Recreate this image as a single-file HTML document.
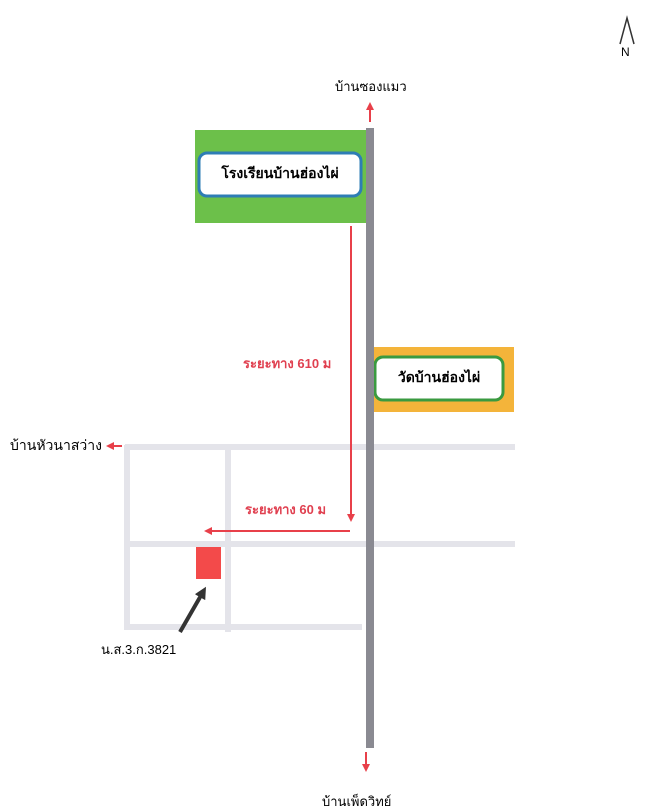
<!DOCTYPE html>
<html><head><meta charset="utf-8"><style>
body{margin:0;width:659px;height:800px;background:#fff;position:relative;overflow:hidden;font-family:"Liberation Sans","Noto Sans CJK SC",sans-serif}
.a{position:absolute}
</style></head><body>
<svg class="a" style="left:0;top:0" width="659" height="800">
<defs><marker id="r" markerWidth="8" markerHeight="8" refX="4" refY="4" orient="auto" markerUnits="userSpaceOnUse"><path d="M0,0L8,4L0,8z" fill="#e8404a"/></marker>
<marker id="k" markerWidth="12" markerHeight="12" refX="6" refY="6" orient="auto" markerUnits="userSpaceOnUse"><path d="M0,0L12,6L0,12z" fill="#333"/></marker></defs>
<g stroke="#e4e4ea" stroke-width="6" fill="none">
<line x1="125" y1="447" x2="515" y2="447"/><line x1="125" y1="544" x2="515" y2="544"/><line x1="125" y1="627" x2="362" y2="627"/>
<line x1="127" y1="445" x2="127" y2="630"/><line x1="228" y1="445" x2="228" y2="632"/></g>
<rect x="195" y="130" width="171" height="93" fill="#6cc04a"/>
<rect x="199" y="153" width="162" height="43" rx="8" fill="#fff" stroke="#2e7db5" stroke-width="3"/>
<rect x="374" y="347" width="140" height="65" fill="#f4b43a"/>
<rect x="375" y="357" width="128" height="43" rx="8" fill="#fff" stroke="#3a9a40" stroke-width="3"/>
<rect x="366" y="128" width="8" height="620" fill="#8a8a92"/>
<line x1="370" y1="122" x2="370" y2="106" stroke="#e8404a" stroke-width="2" marker-end="url(#r)"/>
<line x1="366" y1="752" x2="366" y2="768" stroke="#e8404a" stroke-width="2" marker-end="url(#r)"/>
<line x1="122" y1="446" x2="110" y2="446" stroke="#e8404a" stroke-width="2" marker-end="url(#r)"/>
<line x1="351" y1="226" x2="351" y2="518" stroke="#e8404a" stroke-width="2" marker-end="url(#r)"/>
<line x1="350" y1="531" x2="208" y2="531" stroke="#e8404a" stroke-width="2" marker-end="url(#r)"/>
<rect x="196" y="547" width="25" height="32" fill="#f34a4a"/>
<line x1="180" y1="632" x2="203" y2="592" stroke="#333" stroke-width="4" marker-end="url(#k)"/>
<path d="M620,44L627,18L634,44" fill="none" stroke="#333" stroke-width="1.5"/>
</svg>
<div class="a" style="left:621px;top:45px;font-size:12px">N</div>
<div class="a" style="left:335px;top:76px;font-size:13px">บ้านซองแมว</div>
<div class="a" style="left:199px;top:163px;width:162px;text-align:center;font-size:14px;font-weight:bold">โรงเรียนบ้านฮ่องไผ่</div>
<div class="a" style="left:375px;top:367px;width:128px;text-align:center;font-size:14px;font-weight:bold">วัดบ้านฮ่องไผ่</div>
<div class="a" style="left:243px;top:353px;font-size:13px;color:#e04050;font-weight:bold">ระยะทาง 610 ม</div>
<div class="a" style="left:245px;top:499px;font-size:13px;color:#e04050;font-weight:bold">ระยะทาง 60 ม</div>
<div class="a" style="left:10px;top:435px;font-size:14px">บ้านหัวนาสว่าง</div>
<div class="a" style="left:101px;top:639px;font-size:13px">น.ส.3.ก.3821</div>
<div class="a" style="left:322px;top:791px;font-size:13px">บ้านเพ็ดวิทย์</div>
</body></html>
